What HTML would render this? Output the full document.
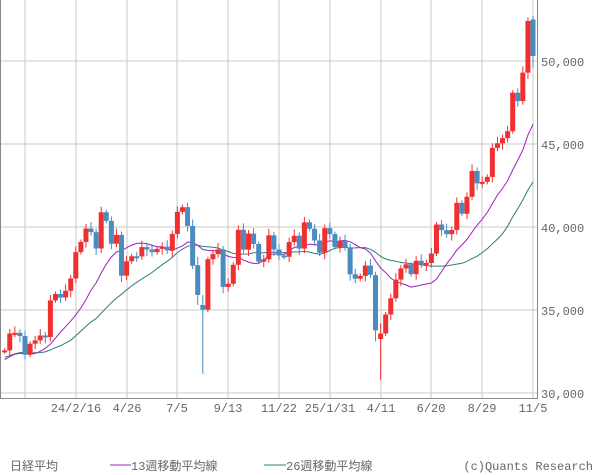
<!DOCTYPE html>
<html><head><meta charset="utf-8"><style>
html,body{margin:0;padding:0;background:#fff;width:600px;height:475px;overflow:hidden}
svg text{font-family:"Liberation Mono","Noto Sans CJK JP",monospace;fill:#666;font-size:12px}
</style></head><body>
<svg id="c" width="600" height="475" xmlns="http://www.w3.org/2000/svg"></svg>
<script>
const pre=[30808,30916,31524,32265,33706,32781,33189,32388,32391,32304,32759,32192,32473,31450,31624,32710,32606,33533,32402,31857,30994,32315,31259,30991,31950];
const cl=[32568,33585,33625,33431,32307,32970,33169,33464,33377,35577,35963,35751,36158,36897,38487,39098,39910,39688,38707,40888,40369,38992,39523,37068,37934,38236,38229,38787,38646,38487,38683,38814,38596,39583,40912,41190,40063,37667,35909,35025,38062,38364,38647,36391,36581,37723,39829,38635,39605,38981,37913,38053,39500,38642,38283,38208,39091,39470,38701,40281,39894,39190,38451,39931,39572,38787,39149,38776,37155,36887,37053,37677,37120,33780,33585,34730,35705,36830,37503,37753,37160,37965,37741,37834,38403,40150,39810,39569,39819,41456,40799,41820,43378,42633,42718,43018,44768,45045,45355,45769,48088,47582,49299,52411,50276];
const Y=p=>61+(50000-p)*0.0166;
const X=i=>533-(104-i)*5.08;
let s='';
[61,144,227,310,393].forEach(y=>{s+=`<line x1="0" y1="${y}" x2="537" y2="${y}" stroke="#c8c8c8"/>`;});
const gx=[25,76,127,177,228,279,330,381,431,482,533];
gx.forEach(x=>s+=`<line x1="${x}" y1="0" x2="${x}" y2="398" stroke="#c8c8c8"/>`);
['50,000','45,000','40,000','35,000','30,000'].forEach((t,k)=>s+=`<text x="541" y="${[61,144,227,310,393][k]+5}">${t}</text>`);
const labs=['24/2/16','4/26','7/5','9/13','11/22','25/1/31','4/11','6/20','8/29','11/5'];
labs.forEach((t,k)=>s+=`<text x="${gx[k+1]}" y="412" text-anchor="middle">${t}</text>`);
const all=pre.concat(cl);
function ma(n){let pts=[];for(let i=0;i<cl.length;i++){let j=i+pre.length;let sum=0;for(let k=j-n+1;k<=j;k++)sum+=all[k];pts.push(X(i).toFixed(1)+','+Y(sum/n).toFixed(1));}return pts.join(' ');}
s+=`<polyline points="${ma(26)}" fill="none" stroke="#2a7f74" stroke-width="1"/>`;
s+=`<polyline points="${ma(13)}" fill="none" stroke="#a020c0" stroke-width="1"/>`;
const ov={39:[35300,35025,35900,31156],73:[37100,33780,37300,33100],74:[33250,33585,34200,30792],38:[37700,35909,38200,35300],104:[52500,50300,52700,49600]};
for(let i=0;i<cl.length;i++){
 let o=i?cl[i-1]:32500,c=cl[i];
 let h=Math.max(o,c)+150+((i*37)%5)*60,l=Math.min(o,c)-150-((i*53)%5)*60;
 if(ov[i]){[o,c,h,l]=ov[i];}
 const col=c>=o?'#f03030':'#4a8bc0';
 const x=X(i);
 let y1=Y(Math.max(o,c)),y2=Y(Math.min(o,c));if(y2-y1<2)y2=y1+2;
 s+=`<line x1="${x}" y1="${Y(h)}" x2="${x}" y2="${Y(l)}" stroke="${col}"/>`;
 s+=`<rect x="${x-2.5}" y="${y1}" width="5" height="${y2-y1}" fill="${col}"/>`;
}
s+=`<polyline points="0.5,0 0.5,398.5 537.5,398.5 537.5,0" fill="none" stroke="#888"/>`;
s+=`<text x="10" y="470" style="font-family:'Noto Sans CJK JP',sans-serif">日経平均</text>`;
s+=`<line x1="110" y1="465" x2="131" y2="465" stroke="#a020c0"/><text x="131" y="470">13週移動平均線</text>`;
s+=`<line x1="264" y1="465" x2="286" y2="465" stroke="#2a7f74"/><text x="286" y="470">26週移動平均線</text>`;
s+=`<text x="593" y="470" text-anchor="end">(c)Quants Research</text>`;
document.getElementById('c').innerHTML=s;
</script>
</body></html>
